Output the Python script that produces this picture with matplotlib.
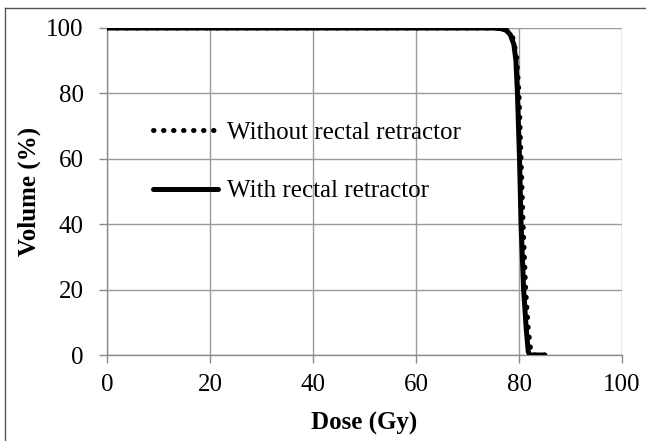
import matplotlib
matplotlib.use("Agg")
import matplotlib.pyplot as plt
from matplotlib.lines import Line2D

# Dose-volume data
dose_without = [0, 75, 77, 78, 78.8, 79.5, 80.0, 80.4, 80.8, 81.3, 81.8, 82.3, 82.8, 85]
vol_without = [100, 100, 99.8, 99, 97, 92, 80, 60, 40, 20, 8, 1, 0, 0]

dose_with = [0, 75, 76.5, 77.5, 78.3, 79.0, 79.4, 79.7, 80.1, 80.4, 80.9, 81.4, 81.8, 82.1, 85]
vol_with = [100, 100, 99.8, 99.3, 98, 95, 90, 80, 60, 40, 20, 8, 1, 0, 0]

labels = ["Without rectal retractor", "With rectal retractor"]
xticks = [0, 20, 40, 60, 80, 100]
yticks = [0, 20, 40, 60, 80, 100]

plt.rcParams['font.family'] = ['Liberation Serif', 'DejaVu Serif']
fs = 18

fig = plt.figure(figsize=(6.46, 4.41), dpi=100)
ax = fig.add_axes([107 / 646, 1 - 355 / 441, 515 / 646, 327 / 441])

ax.plot(dose_without, vol_without, color='black', lw=3.6,
        dashes=(0.1, 1.9), dash_capstyle='round', label=labels[0], zorder=3)
ax.plot(dose_with, vol_with, color='black', lw=3.6,
        solid_capstyle='round', label=labels[1], zorder=4)

ax.set_xlim(0, 100)
ax.set_ylim(0, 100)
ax.set_xticks(xticks)
ax.set_yticks(yticks)
ax.grid(True, color='#9a9a9a', lw=1.0)
ax.set_axisbelow(True)
for side in ['top', 'right']:
    ax.spines[side].set_visible(False)
for side in ['left', 'bottom']:
    ax.spines[side].set_color('#8a8a8a')
    ax.spines[side].set_linewidth(1.0)
ax.tick_params(axis='both', direction='out', length=5.8, width=1.0,
               color='#8a8a8a', labelsize=fs)
ax.tick_params(axis='y', pad=11)
ax.tick_params(axis='x', pad=8)

ax.set_xlabel('Dose (Gy)', fontsize=fs, fontweight='bold', labelpad=11)
ax.set_ylabel('Volume (%)', fontsize=fs, fontweight='bold', labelpad=4)

ax.legend(loc='upper left', bbox_to_anchor=(0.089, 0.715), frameon=False,
          fontsize=fs, handlelength=2.6, handletextpad=0.37,
          labelspacing=1.45, borderpad=0, borderaxespad=0)

# outer frame of the original picture (top and left edges only)
fig.add_artist(Line2D([5 / 646, 5 / 646], [0, 1 - 8 / 441],
                      transform=fig.transFigure, color='#555555', lw=1.0))
fig.add_artist(Line2D([5 / 646, 1], [1 - 8 / 441, 1 - 8 / 441],
                      transform=fig.transFigure, color='#555555', lw=1.0))

fig.savefig('out.png', dpi=100)
